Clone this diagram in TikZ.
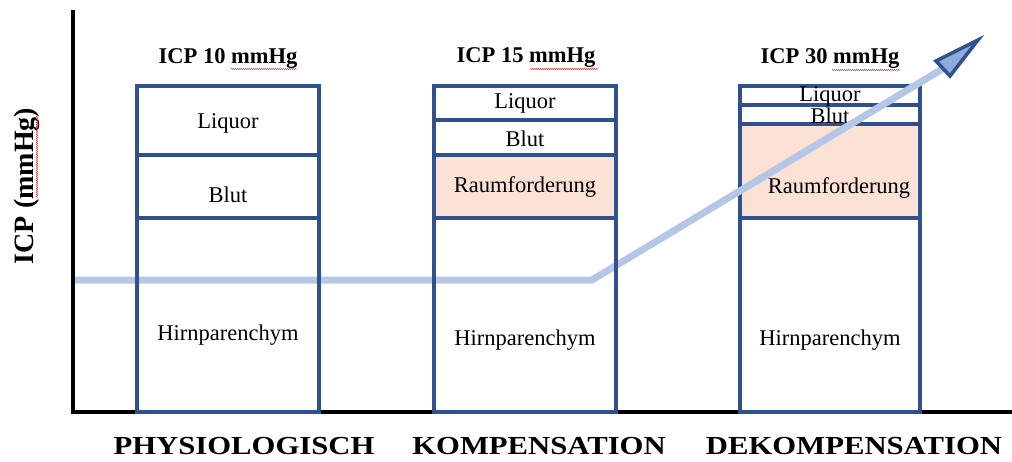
\documentclass[tikz,border=0pt]{standalone}
\usepackage{fontspec}
\setmainfont{Liberation Serif}
\newfontfamily\widefont{Liberation Serif}[FakeStretch=1.18]
\newfontfamily\axisfont{Liberation Serif}
\usetikzlibrary{decorations.pathmorphing}
\definecolor{boxblue}{HTML}{2F528F}
\definecolor{lineblue}{HTML}{B4C7E7}
\definecolor{headblue}{HTML}{8FAADC}
\definecolor{pinkfill}{HTML}{FBE2D5}
\definecolor{spellred}{HTML}{E0403A}
\begin{document}
\begin{tikzpicture}[x=1pt,y=-1pt,
 boxline/.style={draw=boxblue,line width=3.6pt},
 cell/.style={font=\fontsize{22.5}{24}\selectfont, inner sep=0pt},
 title/.style={font=\fontsize{22.5}{24}\selectfont\bfseries, inner sep=0pt},
 phase/.style={font=\widefont\fontsize{26}{27}\selectfont\bfseries, inner sep=0pt},
 ylabel/.style={font=\axisfont\fontsize{28}{30}\selectfont\bfseries, inner sep=0pt, rotate=90},
 axisline/.style={draw=black, line width=3.6pt},
 trend/.style={draw=lineblue, line width=7pt},
 trendhead/.style={fill=headblue, draw=boxblue, line width=3.5pt, line join=miter},
 spell/.style={draw=spellred, line width=0.5pt, decorate, decoration={snake, amplitude=0.6pt, segment length=2pt}}
]
\useasboundingbox (0,0) rectangle (1012,461);

% axes
\coordinate (ytop) at (73,10);
\coordinate (origin) at (73,412);
\coordinate (xend) at (1012,412);
\draw[axisline] (ytop) -- (origin) -- (xend);
\node[ylabel] (yl) at (27,186) {ICP (mmHg)};
\draw[spell] (37,115) -- (37,198);

% box 3 (below the trend arrow)
\fill[pinkfill] (740,124) rectangle (920,218);
\draw[boxline] (740,86) rectangle (920,412);
\draw[boxline] (740,105) -- (920,105);
\draw[boxline] (740,124) -- (920,124);
\draw[boxline] (740,218) -- (920,218);
\node[title] (t3) at (830,58) {ICP 30 mmHg};
\draw[spell] (832,70) -- (900,70);
\node[cell] (c3liq) at (830,96) {Liquor};
\node[cell] (c3blut) at (830,116) {Blut};
\node[cell] (c3raum) at (839,188) {Raumforderung};
\node[cell] (c3hirn) at (830,340) {Hirnparenchym};

% trend arrow
\coordinate (tr0) at (75,280);
\coordinate (trk) at (592,280);
\coordinate (trb) at (944,68);
\coordinate (tip) at (978,40);
\coordinate (hb1) at (936,61);
\coordinate (hb2) at (950,76);
\draw[trend, line join=miter] (tr0) -- (trk) -- (trb);
\filldraw[trendhead] (tip) -- (hb1) -- (hb2) -- cycle;

% box 1
\draw[boxline] (137,86) rectangle (319,412);
\draw[boxline] (137,155) -- (319,155);
\draw[boxline] (137,218) -- (319,218);
\node[title] (t1) at (228,58) {ICP 10 mmHg};
\draw[spell] (231,69) -- (297,69);
\node[cell] (c1liq) at (228,123) {Liquor};
\node[cell] (c1blut) at (228,195) {Blut};
\node[cell] (c1hirn) at (228,335) {Hirnparenchym};

% box 2
\fill[pinkfill] (434,155) rectangle (616,218);
\draw[boxline] (434,86) rectangle (616,412);
\draw[boxline] (434,120) -- (616,120);
\draw[boxline] (434,155) -- (616,155);
\draw[boxline] (434,218) -- (616,218);
\node[title] (t2) at (526,58) {ICP 15 mmHg};
\draw[spell] (530,69) -- (598,69);
\node[cell] (c2liq) at (525,103) {Liquor};
\node[cell] (c2blut) at (525,139) {Blut};
\node[cell] (c2raum) at (525,187) {Raumforderung};
\node[cell] (c2hirn) at (525,340) {Hirnparenchym};

% phase labels
\node[phase] (p1) at (244,446) {PHYSIOLOGISCH};
\node[phase] (p2) at (539,446) {KOMPENSATION};
\node[phase] (p3) at (854,446) {DEKOMPENSATION};
\end{tikzpicture}
\end{document}
